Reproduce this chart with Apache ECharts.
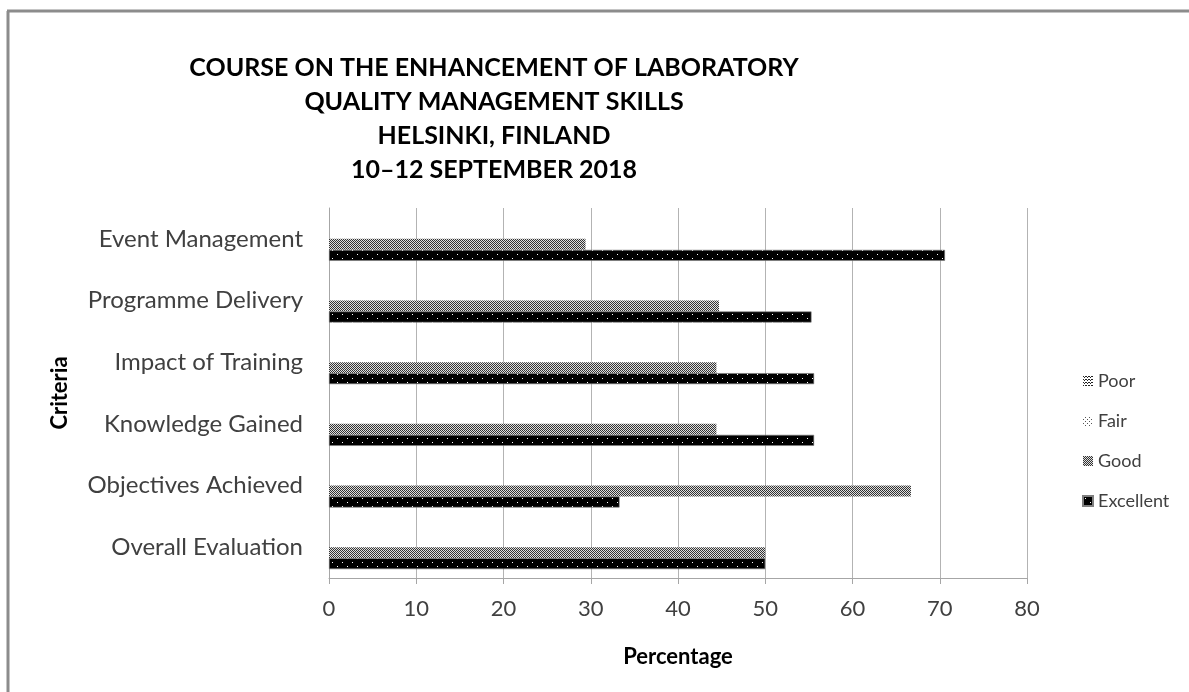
<!DOCTYPE html>
<html>
<head>
<meta charset="utf-8">
<script src="https://cdn.jsdelivr.net/npm/echarts@6/dist/echarts.min.js"></script>
<style>
    html, body { margin: 0; padding: 0; background: #fff; }
    #chart { width: 1189px; height: 692px; }
</style>
</head>
<body>
<div id="chart"></div>
<script>
// categories, bottom to top
const criteria = ['Overall Evaluation', 'Objectives Achieved', 'Knowledge Gained',
    'Impact of Training', 'Programme Delivery', 'Event Management'];
const excellent = [50, 33.3, 55.6, 55.6, 55.3, 70.6];
const good = [50, 66.7, 44.4, 44.4, 44.7, 29.4];
const fair = [0, 0, 0, 0, 0, 0];
const poor = [0, 0, 0, 0, 0, 0];
const xTicks = [0, 80, 10]; // min, max, step

const FONT = 'Lato';

// small tiles used as bar fills
function makeTile(w, h, bg, dots) {
    const c = document.createElement('canvas');
    c.width = w; c.height = h;
    const ctx = c.getContext('2d');
    ctx.fillStyle = bg;
    ctx.fillRect(0, 0, w, h);
    dots.forEach(d => {
        ctx.fillStyle = d[2];
        ctx.fillRect(d[0], d[1], 1, 1);
    });
    return { image: c, repeat: 'repeat' };
}

const fillExcellent = makeTile(10, 8, '#000', [[2, 2, '#fff'], [7, 6, '#fff']]);
const fillGood = makeTile(2, 2, '#e0e0e0', [[0, 0, '#333'], [1, 1, '#333']]);
const fillFair = makeTile(4, 4, '#fff', [[0, 3, '#555'], [2, 1, '#555']]);
const fillPoor = makeTile(3, 3, '#fff', [[0, 0, '#222'], [1, 1, '#222'], [2, 0, '#222']]);

const chart = echarts.init(document.getElementById('chart'));

const barBase = { type: 'bar', barWidth: 11, barGap: '0%' };

chart.setOption({
    animation: false,
    backgroundColor: '#fff',
    textStyle: { fontFamily: FONT },
    graphic: [
        // frame on the left and top
        { type: 'line', shape: { x1: 8, y1: 11, x2: 8, y2: 692 }, style: { stroke: '#8c8c8c', lineWidth: 3 } },
        { type: 'line', shape: { x1: 7, y1: 11, x2: 1189, y2: 11 }, style: { stroke: '#8c8c8c', lineWidth: 3 } },
        {
            type: 'text', x: 494, y: 51,
            style: {
                text: 'COURSE ON THE ENHANCEMENT OF LABORATORY\nQUALITY MANAGEMENT SKILLS\nHELSINKI, FINLAND\n10\u201312 SEPTEMBER 2018',
                align: 'center', verticalAlign: 'top',
                font: 'bold 25px ' + FONT, lineHeight: 34, fill: '#000'
            }
        }
    ],
    legend: {
        orient: 'vertical',
        left: 1077,
        top: 367,
        itemGap: 22,
        itemWidth: 10,
        itemHeight: 10,
        icon: 'rect',
        textStyle: { fontSize: 18, color: '#404040', fontFamily: FONT },
        data: ['Poor', 'Fair', 'Good', 'Excellent']
    },
    grid: { left: 329, right: 162, top: 208, bottom: 114 },
    xAxis: {
        type: 'value',
        min: xTicks[0],
        max: xTicks[1],
        interval: xTicks[2],
        name: 'Percentage',
        nameLocation: 'middle',
        nameGap: 68,
        nameTextStyle: { fontSize: 22, fontWeight: 'bold', color: '#000', fontFamily: FONT },
        axisLine: { show: true, lineStyle: { color: '#a6a6a6' } },
        axisTick: { show: true, length: 6, lineStyle: { color: '#a6a6a6' } },
        axisLabel: { fontSize: 22, color: '#404040', margin: 20, fontFamily: FONT },
        splitLine: { show: true, lineStyle: { color: '#b3b3b3' } }
    },
    yAxis: {
        type: 'category',
        data: criteria,
        name: 'Criteria',
        nameLocation: 'middle',
        nameRotate: 90,
        nameGap: 258,
        nameTextStyle: { fontSize: 22, fontWeight: 'bold', color: '#000', fontFamily: FONT },
        axisLine: { show: true, lineStyle: { color: '#a6a6a6' } },
        axisTick: { show: false },
        axisLabel: { fontSize: 24, color: '#404040', margin: 26, fontFamily: FONT },
        splitLine: { show: false }
    },
    series: [
        Object.assign({ name: 'Poor', data: poor, itemStyle: { color: fillPoor } }, barBase),
        Object.assign({ name: 'Fair', data: fair, itemStyle: { color: fillFair } }, barBase),
        Object.assign({ name: 'Good', data: good, itemStyle: { color: fillGood } }, barBase),
        Object.assign({ name: 'Excellent', data: excellent, itemStyle: { color: fillExcellent, borderColor: '#7f7f7f', borderWidth: 0.6 } }, barBase)
    ]
});
</script>
</body>
</html>
